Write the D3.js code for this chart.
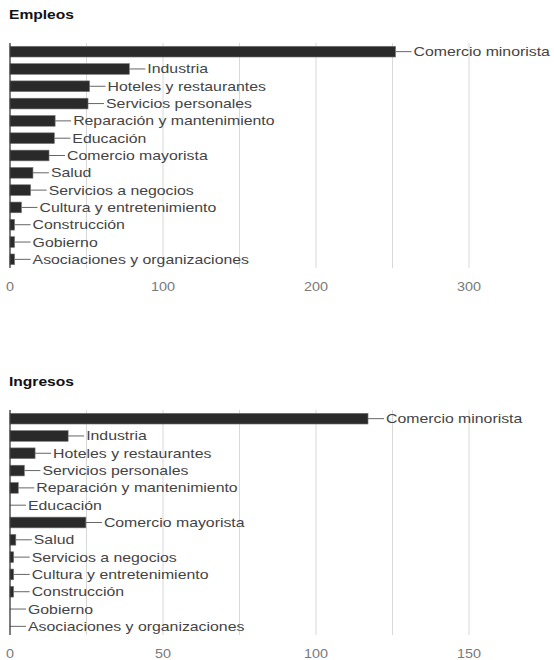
<!DOCTYPE html>
<html>
<head>
<meta charset="utf-8">
<script src="https://cdn.jsdelivr.net/npm/d3@7"></script>
<style>
  body { margin: 0; background: #fff; }
  svg { display: block; font-family: "Liberation Sans", Arial, sans-serif; }
</style>
</head>
<body>
<svg id="chart" width="554" height="660"></svg>
<script>
const categories = [
  "Comercio minorista", "Industria", "Hoteles y restaurantes", "Servicios personales",
  "Reparación y mantenimiento", "Educación", "Comercio mayorista", "Salud",
  "Servicios a negocios", "Cultura y entretenimiento", "Construcción", "Gobierno",
  "Asociaciones y organizaciones"
];
const empleosValues = [252, 78, 52, 51, 29.5, 29, 25.5, 15, 13.5, 7.5, 3, 3, 3];
const ingresosValues = [117, 19, 8.2, 4.7, 2.7, 0, 24.8, 1.9, 1.2, 1.2, 1.2, 0, 0];
const empleosGridTicks = [0, 50, 100, 150, 200, 250, 300];
const empleosTickLabels = [0, 100, 200, 300];
const ingresosGridTicks = [0, 25, 50, 75, 100, 125, 150];
const ingresosTickLabels = [0, 50, 100, 150];

const svg = d3.select("#chart");
const SX = 1.2; // horizontal text stretch seen in reference

function panel(opts) {
  const g = svg.append("g");
  const x = d3.scaleLinear().domain([0, opts.max]).range([10, 545.5]);
  const y = d3.scaleBand().domain(categories)
    .range([opts.top, opts.top + 225]).paddingInner(0.38).paddingOuter(0.19);

  // title
  g.append("text")
    .attr("transform", `translate(9,${opts.top - 24}) scale(${SX},1)`)
    .attr("font-size", 13).attr("font-weight", "bold").attr("fill", "#111")
    .text(opts.title);

  // gridlines
  g.selectAll(".grid").data(opts.grid).enter().append("line")
    .attr("x1", d => x(d)).attr("x2", d => x(d))
    .attr("y1", opts.top).attr("y2", opts.top + 225)
    .attr("stroke", "#d8d8d8").attr("stroke-width", 1);

  // tick labels
  g.selectAll(".tick").data(opts.labels).enter().append("text")
    .attr("transform", d => `translate(${x(d)},${opts.top + 247.5}) scale(${SX},1)`)
    .attr("text-anchor", "middle").attr("font-size", 12).attr("fill", "#7a7a7a")
    .text(d => d);

  const data = categories.map((c, i) => ({ c, v: opts.values[i] }));

  // bars
  g.selectAll(".bar").data(data).enter().append("rect")
    .attr("x", x(0)).attr("y", d => y(d.c))
    .attr("width", d => x(d.v) - x(0)).attr("height", y.bandwidth())
    .attr("fill", "#2a2a2a").attr("stroke", "#777").attr("stroke-width", 0.6);

  // leader lines
  g.selectAll(".lead").data(data).enter().append("line")
    .attr("x1", d => x(d.v)).attr("x2", d => x(d.v) + 16)
    .attr("y1", d => y(d.c) + y.bandwidth() / 2).attr("y2", d => y(d.c) + y.bandwidth() / 2)
    .attr("stroke", "#666").attr("stroke-width", 1);

  // labels
  g.selectAll(".lab").data(data).enter().append("text")
    .attr("transform", d => `translate(${x(d.v) + 18},${y(d.c) + y.bandwidth() / 2 + 4.5}) scale(${SX},1)`)
    .attr("font-size", 13.2).attr("fill", "#444")
    .text(d => d.c);

  // axis line
  g.append("line")
    .attr("x1", x(0)).attr("x2", x(0))
    .attr("y1", opts.top).attr("y2", opts.top + 225)
    .attr("stroke", "#333").attr("stroke-width", 1.2);
}

panel({ title: "Empleos", top: 43, max: 350, values: empleosValues, grid: empleosGridTicks, labels: empleosTickLabels });
panel({ title: "Ingresos", top: 410, max: 175, values: ingresosValues, grid: ingresosGridTicks, labels: ingresosTickLabels });
</script>
</body>
</html>
